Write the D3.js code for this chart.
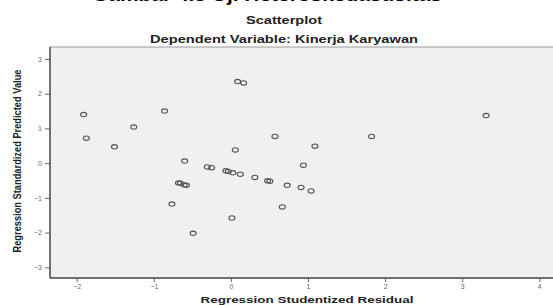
<!DOCTYPE html>
<html>
<head>
<meta charset="utf-8">
<script src="https://cdn.jsdelivr.net/npm/d3@7"></script>
<style>
  body { margin: 0; background: #fff; }
  svg { display: block; font-family: "Liberation Sans", Arial, sans-serif; }
</style>
</head>
<body>
<svg id="chart"></svg>
<script>
const width = 553;
const height = 305;

// Data
const residuals = [-1.91, -1.875, -1.51, -1.26, -0.86, 0.087, 0.165, 0.571, 0.057, -0.60,
    -0.306, -0.25, -0.065, -0.034, 0.026, 0.122, 0.311, 0.476, 0.506, -0.68,
    -0.656, -0.604, -0.578, -0.765, -0.49, 0.013, 0.667, 1.825, 1.09, 0.94,
    0.73, 0.91, 1.04, 3.31];
const predicted = [1.40, 0.72, 0.47, 1.04, 1.50, 2.35, 2.31, 0.77, 0.38, 0.06,
    -0.11, -0.13, -0.22, -0.24, -0.28, -0.32, -0.41, -0.51, -0.52, -0.57,
    -0.58, -0.63, -0.64, -1.18, -2.02, -1.58, -1.26, 0.77, 0.49, -0.06,
    -0.64, -0.70, -0.80, 1.37];
const xTicks = [-2, -1, 0, 1, 2, 3, 4];
const yTicks = [-3, -2, -1, 0, 1, 2, 3];

const plot = { left: 50, top: 47, right: 570, bottom: 278 };

const x = d3.scaleLinear().domain([-2, 4]).range([76.7, 539.3]);
const y = d3.scaleLinear().domain([-3, 3]).range([267.3, 59]);

const svg = d3.select("#chart")
    .attr("width", width)
    .attr("height", height);

// heading of the page, mostly cut off above the picture
svg.append("text")
    .attr("x", 267).attr("y", 1)
    .attr("text-anchor", "middle")
    .attr("font-size", 18).attr("font-weight", "bold")
    .attr("fill", "#000")
    .attr("textLength", 350)
    .attr("lengthAdjust", "spacingAndGlyphs")
    .text("Gambar 4.3 Uji Heteroskedastisitas");

svg.append("text")
    .attr("x", 284).attr("y", 24)
    .attr("text-anchor", "middle")
    .attr("font-size", 10).attr("font-weight", "bold")
    .attr("fill", "#222")
    .attr("textLength", 76)
    .attr("lengthAdjust", "spacingAndGlyphs")
    .text("Scatterplot");

svg.append("text")
    .attr("x", 284).attr("y", 43)
    .attr("text-anchor", "middle")
    .attr("font-size", 10).attr("font-weight", "bold")
    .attr("fill", "#222")
    .attr("textLength", 268)
    .attr("lengthAdjust", "spacingAndGlyphs")
    .text("Dependent Variable: Kinerja Karyawan");

// plot area
svg.append("rect")
    .attr("x", plot.left).attr("y", plot.top)
    .attr("width", plot.right - plot.left).attr("height", plot.bottom - plot.top)
    .attr("fill", "#f0f0f0")
    .attr("stroke", "#999")
    .attr("stroke-width", 1);

const xAxis = svg.append("g")
    .attr("transform", `translate(0,${plot.bottom})`)
    .call(d3.axisBottom(x).tickValues(xTicks).tickSize(4).tickPadding(2).tickFormat(d3.format("d")));
const yAxis = svg.append("g")
    .attr("transform", `translate(${plot.left},0)`)
    .call(d3.axisLeft(y).tickValues(yTicks).tickSize(5).tickPadding(3).tickFormat(d3.format("d")));

[xAxis, yAxis].forEach(g => {
    g.select(".domain").remove();
    g.selectAll(".tick line").attr("stroke", "#666");
    g.selectAll(".tick text").attr("font-size", 7).attr("fill", "#666")
        .attr("font-family", "Liberation Sans, Arial, sans-serif");
});

// axis lines
svg.append("line")
    .attr("x1", plot.left).attr("x2", plot.left)
    .attr("y1", plot.top).attr("y2", plot.bottom)
    .attr("stroke", "#555").attr("stroke-width", 1.5);
svg.append("line")
    .attr("x1", plot.left).attr("x2", plot.right)
    .attr("y1", plot.bottom).attr("y2", plot.bottom)
    .attr("stroke", "#555").attr("stroke-width", 1.5);

// points
svg.append("g")
    .selectAll("ellipse")
    .data(residuals.map((r, i) => [r, predicted[i]]))
    .join("ellipse")
    .attr("cx", d => x(d[0]))
    .attr("cy", d => y(d[1]))
    .attr("rx", 3)
    .attr("ry", 2.2)
    .attr("fill", "none")
    .attr("stroke", "#555")
    .attr("stroke-width", 1.1);

// axis titles
svg.append("text")
    .attr("transform", "translate(21,161) rotate(-90)")
    .attr("text-anchor", "middle")
    .attr("font-size", 10).attr("font-weight", "bold")
    .attr("fill", "#222")
    .attr("textLength", 183)
    .attr("lengthAdjust", "spacingAndGlyphs")
    .text("Regression Standardized Predicted Value");

svg.append("text")
    .attr("x", 307).attr("y", 303)
    .attr("text-anchor", "middle")
    .attr("font-size", 9.5).attr("font-weight", "bold")
    .attr("fill", "#222")
    .attr("textLength", 213)
    .attr("lengthAdjust", "spacingAndGlyphs")
    .text("Regression Studentized Residual");
</script>
</body>
</html>
